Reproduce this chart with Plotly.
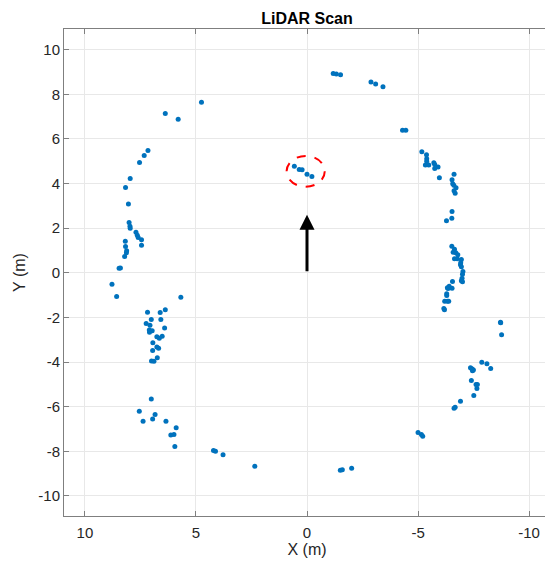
import plotly.graph_objects as go

# LiDAR scan points (X, Y in metres)
scan_x = [
    4.75, 6.38, 5.80, 7.16, 7.33, 7.54, 7.96, 8.17, 8.04, 8.01, 7.97, 7.96, 7.70, 7.64, 7.60, 7.45, 7.45,
    8.18, 8.17, 8.12, 8.13, 8.21, 8.40, 8.46,
    0.57, 0.35, 0.22, 0.00, -0.22,
    -1.18, -1.32, -1.51, -2.88, -3.09, -3.42, -4.30, -4.45, -5.17, -5.38, -5.39, -5.39, -5.33, -5.48,
    -5.71, -5.75, -5.75, -5.90, -5.96, -6.62, -6.53, -6.56, -6.61, -6.71, -6.62, -6.67, -6.53, -6.28, -6.52,
    -6.52, -6.64, -6.58, -6.70, -6.79, -6.64, -6.76, -6.95, -6.92, -6.91, -6.95, -7.02, -7.00, -6.98,
    -6.95, -7.00, -6.55, -6.40, -6.32, -6.53, -6.35, -6.29, -6.29, -6.20, -6.38, -6.32, -6.16, -6.19,
    -8.71, -8.72, -8.76, -7.87, -8.10, -8.27, -7.36, -7.42, -7.47, -7.45, -7.49, -7.40, -7.61, -7.67,
    -7.65, -7.51, -6.91, -6.62, -6.67, -5.00, -5.15, -5.21, -1.50, -1.59, -2.01,
    8.78, 8.57, 5.68, 7.18, 6.61, 6.38, 7.01, 6.58, 7.24, 7.07, 6.41, 7.10, 6.97, 7.09, 6.76, 6.65, 6.52,
    6.94, 6.76, 6.68, 6.95, 6.74, 7.00, 6.89, 7.01, 7.55, 7.38, 6.95, 6.84, 6.35, 5.89, 6.13, 5.99, 5.95,
    4.21, 4.12, 3.78, 2.35,
]
scan_y = [
    7.65, 7.14, 6.89, 5.48, 5.26, 4.95, 4.23, 3.83, 3.08, 2.26, 2.09, 2.00, 1.82, 1.69, 1.58, 1.48, 1.24,
    1.42, 1.18, 0.99, 0.90, 0.73, 0.22, 0.21,
    4.78, 4.63, 4.62, 4.42, 4.32,
    8.94, 8.91, 8.88, 8.55, 8.46, 8.34, 6.39, 6.39, 5.43, 5.29, 5.11, 5.00, 4.83, 4.83,
    4.93, 4.86, 4.68, 4.74, 4.26, 4.42, 4.17, 3.99, 3.93, 3.81, 3.68, 3.57, 2.75, 2.33, 2.45,
    1.19, 1.06, 0.92, 0.90, 0.81, 0.63, 0.63, 0.60, 0.45, 0.36, 0.27, 0.06, -0.06, -0.24,
    -0.35, -0.40, -0.39, -0.60, -0.67, -0.69, -0.70, -0.94, -1.02, -1.27, -1.27, -1.27, -1.60, -1.65,
    -2.21, -2.24, -2.78, -4.01, -4.07, -4.29, -4.25, -4.30, -4.34, -4.39, -4.35, -4.83, -5.00, -5.01,
    -5.19, -5.50, -5.76, -6.07, -6.03, -7.16, -7.25, -7.33, -8.85, -8.83, -8.76,
    -0.51, -1.06, -1.09, -1.77, -1.78, -1.65, -2.09, -2.09, -2.27, -2.35, -2.47, -2.56, -2.60, -2.66, -2.87, -2.93, -2.84,
    -3.13, -3.32, -3.38, -3.48, -3.81, -3.95, -3.96, -5.65, -6.21, -6.65, -6.55, -6.35, -6.65, -6.94, -7.27, -7.25, -7.79,
    -7.96, -8.00, -8.16, -8.67,
]

x_ticks = [10, 5, 0, -5, -10]
y_ticks = [10, 8, 6, 4, 2, 0, -2, -4, -6, -8, -10]

# Heading arrow (start, tip) and target ellipse bounds
arrow_start = (0, 0)
arrow_tip = (0, 2.6)
target_box = (0.92, -0.80, 3.86, 5.24)  # x0, x1, y0, y1

font_family = "Liberation Sans, Arial, Helvetica, sans-serif"
axis_color = "#7f7f7f"
text_color = "#262626"

fig = go.Figure()
fig.add_trace(go.Scatter(
    x=scan_x, y=scan_y, mode="markers",
    marker=dict(size=5, color="#0072BD", line=dict(width=0)),
    hoverinfo="x+y", showlegend=False,
))

fig.add_shape(
    type="circle", xref="x", yref="y",
    x0=target_box[0], x1=target_box[1], y0=target_box[2], y1=target_box[3],
    line=dict(color="red", width=2, dash="dash"),
)

fig.add_annotation(
    x=arrow_tip[0], y=arrow_tip[1], ax=arrow_start[0], ay=arrow_start[1],
    xref="x", yref="y", axref="x", ayref="y",
    showarrow=True, arrowhead=2, arrowsize=1, arrowwidth=3, arrowcolor="black",
    text="", standoff=0, startstandoff=0,
)

axis_common = dict(
    showline=True, linecolor=axis_color, linewidth=1, mirror="ticks",
    ticks="inside", ticklen=5, tickcolor=axis_color, tickwidth=1,
    showgrid=True, gridcolor="#e8e8e8", gridwidth=1, zeroline=False,
    tickfont=dict(family=font_family, size=15, color=text_color),
    automargin=False,
)

fig.update_xaxes(
    range=[10.94, -10.94], tickvals=x_ticks, ticktext=[str(v) for v in x_ticks],
    ticklabelstandoff=3,
    title=dict(text="X (m)", font=dict(family=font_family, size=16, color=text_color), standoff=2),
    **axis_common,
)
fig.update_yaxes(
    range=[-10.9, 10.93], tickvals=y_ticks, ticktext=[str(v) for v in y_ticks],
    title=dict(text="Y (m)", font=dict(family=font_family, size=16, color=text_color), standoff=8),
    **axis_common,
)

# The page body adds an 8px offset, so the figure is sized to end at the window edge.
fig.update_layout(
    width=545, height=555,
    margin=dict(l=56, r=3, t=21, b=47, autoexpand=False),
    paper_bgcolor="white", plot_bgcolor="white",
    title=dict(
        text="<b>LiDAR Scan</b>", x=0.5486, xanchor="center", y=0.982, yanchor="middle",
        yref="container", font=dict(family=font_family, size=16, color="black"),
    ),
)

fig.write_html("out.html")
